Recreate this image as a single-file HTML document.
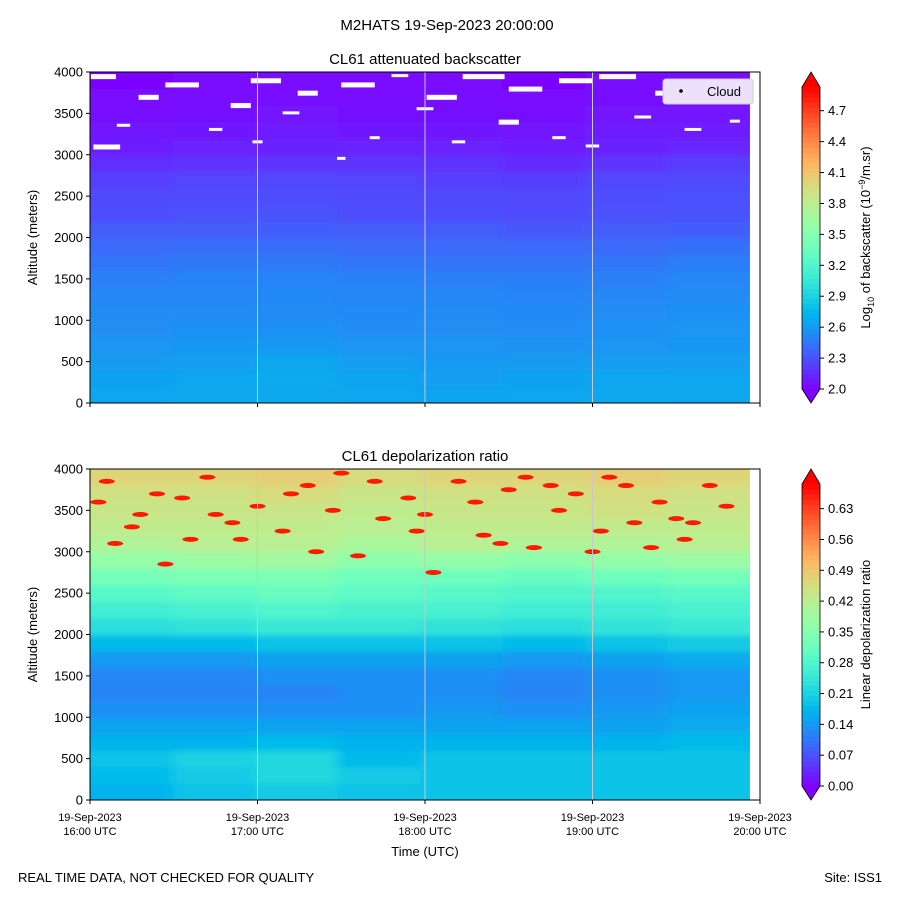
<!DOCTYPE html>
<html><head><meta charset="utf-8"><style>
body{margin:0;background:#fff;}
svg text{font-family:"Liberation Sans","DejaVu Sans",sans-serif;fill:#000;}
</style></head><body>
<svg id="fig" width="900" height="900" xmlns="http://www.w3.org/2000/svg">
<defs>
<filter id="blur" filterUnits="userSpaceOnUse" x="0" y="0" width="900" height="900"><feGaussianBlur stdDeviation="6 3"/></filter>
<clipPath id="clipTop"><rect x="90" y="72" width="670" height="331"/></clipPath>
<clipPath id="clipBot"><rect x="90" y="469" width="670" height="331"/></clipPath>
</defs>
<text x="447" y="30" font-size="15" text-anchor="middle">M2HATS 19-Sep-2023 20:00:00</text>
<text x="425" y="64" font-size="15" text-anchor="middle">CL61 attenuated backscatter</text>
<text x="425" y="461" font-size="15" text-anchor="middle">CL61 depolarization ratio</text>
<g id="top"></g>
<g id="bot"></g>
<text x="425" y="856" font-size="13" text-anchor="middle">Time (UTC)</text>
<text x="18" y="882" font-size="13">REAL TIME DATA, NOT CHECKED FOR QUALITY</text>
<text x="882" y="882" font-size="13" text-anchor="end">Site: ISS1</text>
</svg>
<script>
// ---- data ----
const altBins = [0,200,400,600,800,1000,1200,1400,1600,1800,2000,2200,2400,2600,2800,3000,3200,3400,3600,3800];
const timeBins = [0,0.4925,0.985,1.4775,1.97,2.4625,2.955,3.4475]; // hours after 16:00
const backscatter = [
[2.66,2.67,2.67,2.66,2.65,2.66,2.67,2.66],
[2.64,2.66,2.68,2.65,2.63,2.64,2.66,2.66],
[2.61,2.63,2.66,2.62,2.60,2.61,2.62,2.63],
[2.58,2.59,2.60,2.58,2.58,2.57,2.58,2.59],
[2.55,2.56,2.56,2.55,2.55,2.55,2.56,2.58],
[2.54,2.54,2.54,2.53,2.54,2.53,2.55,2.56],
[2.52,2.52,2.53,2.52,2.52,2.51,2.52,2.54],
[2.49,2.50,2.51,2.50,2.49,2.48,2.49,2.52],
[2.45,2.46,2.46,2.45,2.44,2.44,2.45,2.48],
[2.40,2.41,2.41,2.40,2.40,2.39,2.40,2.42],
[2.34,2.34,2.35,2.34,2.34,2.33,2.34,2.35],
[2.29,2.30,2.31,2.29,2.29,2.28,2.30,2.31],
[2.27,2.28,2.29,2.28,2.27,2.27,2.29,2.30],
[2.24,2.25,2.26,2.25,2.24,2.23,2.26,2.27],
[2.17,2.18,2.20,2.19,2.18,2.16,2.19,2.22],
[2.11,2.12,2.13,2.12,2.12,2.10,2.13,2.14],
[2.08,2.09,2.10,2.09,2.09,2.07,2.10,2.10],
[2.05,2.06,2.07,2.06,2.06,2.05,2.07,2.07],
[2.03,2.04,2.05,2.04,2.04,2.03,2.05,2.05],
[2.02,2.03,2.04,2.03,2.03,2.02,2.03,2.04]];
const depol = [
[0.17,0.19,0.20,0.19,0.19,0.19,0.19,0.19],
[0.18,0.20,0.22,0.20,0.19,0.19,0.19,0.19],
[0.19,0.21,0.22,0.18,0.19,0.19,0.19,0.19],
[0.17,0.17,0.18,0.17,0.17,0.17,0.17,0.18],
[0.15,0.15,0.15,0.15,0.15,0.15,0.15,0.16],
[0.13,0.13,0.13,0.13,0.14,0.13,0.14,0.15],
[0.12,0.12,0.12,0.13,0.13,0.12,0.13,0.14],
[0.12,0.12,0.13,0.13,0.13,0.12,0.13,0.14],
[0.14,0.14,0.15,0.15,0.15,0.14,0.15,0.16],
[0.18,0.18,0.19,0.19,0.19,0.18,0.19,0.20],
[0.23,0.24,0.25,0.25,0.24,0.23,0.24,0.25],
[0.26,0.27,0.28,0.27,0.27,0.26,0.26,0.27],
[0.29,0.30,0.31,0.30,0.29,0.28,0.28,0.29],
[0.33,0.34,0.34,0.32,0.32,0.31,0.32,0.33],
[0.37,0.38,0.39,0.36,0.37,0.36,0.37,0.38],
[0.41,0.42,0.42,0.40,0.42,0.41,0.41,0.42],
[0.43,0.43,0.43,0.42,0.43,0.43,0.43,0.43],
[0.44,0.44,0.44,0.43,0.44,0.44,0.45,0.44],
[0.45,0.45,0.46,0.44,0.45,0.45,0.46,0.45],
[0.47,0.47,0.48,0.46,0.47,0.47,0.48,0.47]];
const cloudTimes = [0.08,0.35,0.55,0.9,1.05,1.3,1.6,1.85,2.1,2.35,2.6,2.9,3.15,3.45,3.7,0.2,0.75,1.2,1.7,2.0,2.5,2.8,3.3,3.6,0.1,1.0,1.5,2.2,3.0,3.85];
const cloudAlts = [3950,3700,3850,3600,3900,3750,3850,3950,3700,3950,3800,3900,3950,3750,3850,3350,3300,3500,3200,3550,3400,3200,3450,3300,3100,3150,2950,3150,3100,3400];
const cloudWidths = [0.15,0.12,0.2,0.12,0.18,0.12,0.2,0.1,0.18,0.25,0.2,0.2,0.22,0.15,0.15,0.08,0.08,0.1,0.06,0.1,0.12,0.08,0.1,0.1,0.16,0.06,0.05,0.08,0.08,0.06];
const redTimes = [0.1,0.4,0.7,1.0,1.3,1.5,1.9,2.2,2.5,2.8,3.1,3.4,3.7,0.25,0.6,1.15,1.75,2.35,2.65,3.25,3.55,0.45,1.6,2.05,3.0,
 0.05,0.3,0.55,0.85,1.2,1.45,1.7,2.0,2.3,2.6,2.9,3.2,3.5,3.8,0.15,0.75,1.35,1.95,2.45,3.05,3.6,0.9,2.75,3.35];
const redAlts = [3850,3700,3900,3550,3800,3950,3650,3850,3750,3500,3900,3600,3800,3300,3150,3250,3400,3200,3050,3350,3150,2850,2950,2750,3000,
 3600,3450,3650,3350,3700,3500,3850,3450,3600,3900,3700,3800,3400,3550,3100,3450,3000,3250,3100,3250,3350,3150,3800,3050];
const bsTicks = ["2.0","2.3","2.6","2.9","3.2","3.5","3.8","4.1","4.4","4.7"];
const dpTicks = ["0.00","0.07","0.14","0.21","0.28","0.35","0.42","0.49","0.56","0.63"];
const altTicks = [0,500,1000,1500,2000,2500,3000,3500,4000];
const timeTicks = ["16:00","17:00","18:00","19:00","20:00"];

// ---- helpers ----
const NS="http://www.w3.org/2000/svg";
function mk(tag,attrs,parent){const e=document.createElementNS(NS,tag);for(const k in attrs)e.setAttribute(k,attrs[k]);parent.appendChild(e);return e;}
function rainbow(x){x=Math.max(0,Math.min(1,x));const r=Math.min(1,Math.abs(2*x-0.5)),g=Math.sin(Math.PI*x),b=Math.cos(Math.PI*x/2);
 return `rgb(${Math.round(r*255)},${Math.round(g*255)},${Math.round(b*255)})`;}
const X0=90,X1=760;
const xs=h=>X0+h*(X1-X0)/4;
const tEnd=3.94;

function panel(g,y0,data,vmin,vmax,ticks,tickStep,cbLabel,clip,isTop){
 const y1=y0+331;
 const ys=a=>y1-a*(y1-y0)/4000;
 const heat=mk('g',{'clip-path':`url(#${clip})`},g);
 
 
 const inner=mk('g',{filter:'url(#blur)'},heat);
 const nr=altBins.length,nc=timeBins.length;
 for(let i=0;i<nr;i++)for(let j=0;j<nc;j++){
  const a0=altBins[i],a1=i+1<nr?altBins[i+1]:4000;
  const t0=timeBins[j],t1=j+1<nc?timeBins[j+1]:tEnd;
  let xa=xs(t0),xb=xs(t1)+0.5,ya=ys(a1),yb=ys(a0)+0.5;
  if(j==0)xa-=30; if(j==nc-1)xb+=30; if(i==0)yb+=30; if(i==nr-1)ya-=30;
  const r=mk('rect',{x:xa,y:ya,width:xb-xa,height:yb-ya,fill:rainbow((data[i][j]-vmin)/(vmax-vmin))},inner);
  
  
 }
 if(!isTop){
  for(let k=0;k<redTimes.length;k++){
   const e=mk('ellipse',{cx:xs(redTimes[k]),cy:ys(redAlts[k]),rx:8,ry:2.5,fill:'#ff1a00'},heat);
   
   
  }
 } else {
  for(let k=0;k<cloudTimes.length;k++){
   const w=xs(cloudWidths[k])-X0;
   const c=mk('rect',{x:xs(cloudTimes[k])-w/2,y:ys(cloudAlts[k])-2,width:w,height:w>20?5:3,fill:'#fff'},heat);
   
   
  }
 }
 mk('rect',{x:xs(tEnd),y:y0,width:X1-xs(tEnd),height:331,fill:'#fff'},heat);
 for(let h=1;h<=3;h++){const l=mk('line',{x1:xs(h),x2:xs(h),y1:y0,y2:y1,stroke:'#c8c8c8','stroke-width':1},g);
  }
 mk('rect',{x:X0,y:y0,width:X1-X0,height:331,fill:'none',stroke:'#000','stroke-width':1},g);
 altTicks.forEach(a=>{const y=ys(a);mk('line',{x1:X0-4,x2:X0,y1:y,y2:y,stroke:'#000'},g);
  const t=mk('text',{x:X0-7,y:y+4.5,'font-size':13,'text-anchor':'end'},g);t.textContent=a;
  });
 const yt=mk('text',{x:37,y:(y0+y1)/2,'font-size':13,'text-anchor':'middle',transform:`rotate(-90 37 ${(y0+y1)/2})`},g);
 yt.textContent='Altitude (meters)';
 timeTicks.forEach((lab,h)=>{const x=xs(h);mk('line',{x1:x,x2:x,y1:y1,y2:y1+4,stroke:'#000'},g);
  if(!isTop){const t1=mk('text',{x:x,y:y1+21,'font-size':11,'text-anchor':'middle'},g);t1.textContent='19-Sep-2023';
   
   const t2=mk('text',{x:x,y:y1+35,'font-size':11,'text-anchor':'middle'},g);t2.textContent=lab+' UTC';
   }});
 const cb=mk('g',{},g);
 const bx=802,bw=18,bBot=y1-14,bTop=y0+15,n=60;
 for(let k=0;k<n;k++){const f=k/n;mk('rect',{x:bx,y:bBot-(k+1)*(bBot-bTop)/n,width:bw,height:(bBot-bTop)/n+0.6,fill:rainbow(f+0.5/n)},cb);}
 mk('polygon',{points:`${bx},${bTop} ${bx+bw},${bTop} ${bx+bw/2},${y0}`,fill:rainbow(1)},cb);
 mk('polygon',{points:`${bx},${bBot} ${bx+bw},${bBot} ${bx+bw/2},${y1}`,fill:rainbow(0)},cb);
 mk('polygon',{points:`${bx+bw/2},${y0} ${bx+bw},${bTop} ${bx+bw},${bBot} ${bx+bw/2},${y1} ${bx},${bBot} ${bx},${bTop}`,fill:'none',stroke:'#000','stroke-width':0.8},cb);
 ticks.forEach((lab,k)=>{const v=vmin+k*tickStep;const y=bBot-(v-vmin)/(vmax-vmin)*(bBot-bTop);
  mk('line',{x1:bx+bw,x2:bx+bw+4,y1:y,y2:y,stroke:'#000'},cb);
  const t=mk('text',{x:bx+bw+8,y:y+4.5,'font-size':13},cb);t.textContent=lab;
  });
 const cl=mk('text',{x:870,y:(y0+y1)/2,'font-size':13,'text-anchor':'middle',transform:`rotate(-90 870 ${(y0+y1)/2})`},cb);
 cl.innerHTML=cbLabel;
}
panel(document.getElementById('top'),72,backscatter,2.0,4.93,bsTicks,0.3,'Log<tspan font-size="9" dy="4">10</tspan><tspan dy="-4"> of backscatter (10</tspan><tspan font-size="9" dy="-5">−9</tspan><tspan dy="5">/m.sr)</tspan>','clipTop',true);
panel(document.getElementById('bot'),469,depol,0,0.686,dpTicks,0.07,'Linear depolarization ratio','clipBot',false);
const topPanel=document.getElementById('top');
const lg=mk('g',{},topPanel);


mk('rect',{x:663,y:79,width:90,height:25,rx:3,fill:'#ece0fb',stroke:'#ccc'},lg);
mk('circle',{cx:681,cy:91,r:1.8,fill:'#000'},lg);
const lt=mk('text',{x:707,y:96,'font-size':13},lg);lt.textContent='Cloud';


</script>
</body></html>
